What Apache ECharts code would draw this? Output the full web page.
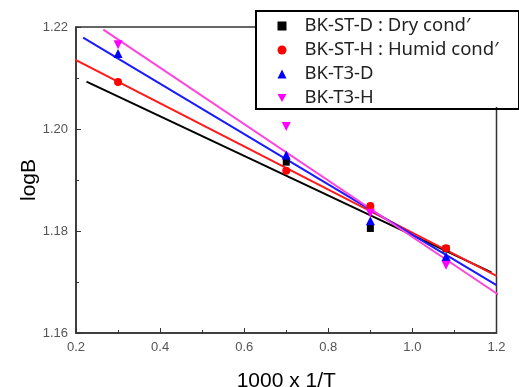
<!DOCTYPE html>
<html><head><meta charset="utf-8">
<script src="https://cdn.jsdelivr.net/npm/echarts@6/dist/echarts.min.js"></script>
<style>html,body{margin:0;padding:0;background:#fff}#c{width:519px;height:387px}</style>
</head><body><div id="c"></div>
<script>
// Data
const names = ['BK-ST-D : Dry cond\u2032', 'BK-ST-H : Humid cond\u2032', 'BK-T3-D', 'BK-T3-H'];
const stD_pts = [[0.7, 1.1935], [0.9, 1.1805], [1.08, 1.1765]];
const stH_pts = [[0.3, 1.2092], [0.7, 1.1918], [0.9, 1.1849], [1.08, 1.1766]];
const t3D_pts = [[0.3, 1.2148], [0.7, 1.1949], [0.9, 1.1820], [1.08, 1.1750]];
const t3H_pts = [[0.3, 1.2165], [0.7, 1.2005], [0.9, 1.1835], [1.08, 1.1733]];
// fitted lines (endpoints)
const stD_fit = [[0.225, 1.2093], [1.188, 1.1719]];
const stH_fit = [[0.195, 1.2137], [1.2, 1.1712]];
const t3D_fit = [[0.217, 1.2179], [1.2, 1.1694]];
const t3H_fit = [[0.265, 1.2195], [1.205, 1.1675]];
const xTicks = [0.2, 0.4, 0.6, 0.8, 1.0, 1.2];
const yTicks = [1.16, 1.18, 1.20, 1.22];

const colors = ['#000000', '#ff0000', '#0000ff', '#ff00ff'];
const lineColors = ['#000000', '#ff1a1a', '#1a1aff', '#ff44dd'];
const symbols = ['rect', 'circle', 'triangle', 'path://M0,0 L10,0 L5,9 Z'];
const symSizes = [7, 8, 9, 9];
const pts = [stD_pts, stH_pts, t3D_pts, t3H_pts];
const fits = [stD_fit, stH_fit, t3D_fit, t3H_fit];

const series = [];
fits.forEach((f, i) => series.push({
  type: 'line', data: f, showSymbol: false, symbol: 'none', silent: true,
  lineStyle: {color: lineColors[i], width: 2}, z: 2, clip: false
}));
pts.forEach((p, i) => series.push({
  name: names[i], type: 'scatter', data: p, symbol: symbols[i], symbolSize: symSizes[i],
  itemStyle: {color: colors[i], opacity: 1}, z: 5
}));

const tickFont = {color: '#555', fontSize: 13, fontFamily: 'Liberation Sans, Arial, sans-serif'};
const chart = echarts.init(document.getElementById('c'), null, {renderer: 'canvas'});
chart.setOption({
  animation: false,
  backgroundColor: '#fff',
  grid: {left: 76, top: 27, right: 22.5, bottom: 54, show: true, borderColor: '#333', borderWidth: 1.5,
         containLabel: false, outerBoundsMode: 'none'},
  xAxis: {
    type: 'value', min: 0.2, max: 1.2, interval: 0.2,
    axisLine: {lineStyle: {color: '#333', width: 1.5}},
    axisTick: {inside: true, length: 5, lineStyle: {color: '#333'}},
    minorTick: {show: true, splitNumber: 2, length: 3, lineStyle: {color: '#333'}},
    splitLine: {show: false},
    axisLabel: Object.assign({formatter: v => v.toFixed(1), margin: 8}, tickFont),
    name: '1000 x 1/T', nameLocation: 'middle', nameGap: 38,
    nameTextStyle: {fontSize: 21, color: '#000', fontFamily: 'Liberation Sans, Arial, sans-serif'}
  },
  yAxis: {
    type: 'value', min: 1.16, max: 1.22, interval: 0.02,
    axisLine: {lineStyle: {color: '#333', width: 1.5}},
    axisTick: {inside: true, length: 5, lineStyle: {color: '#333'}},
    minorTick: {show: true, splitNumber: 2, length: 3, lineStyle: {color: '#333'}},
    splitLine: {show: false},
    axisLabel: Object.assign({formatter: v => v.toFixed(2), margin: 8}, tickFont),
    name: 'logB', nameLocation: 'middle', nameGap: 36, nameRotate: 90, nameMoveOverlap: false,
    nameTextStyle: {fontSize: 21, color: '#000', fontFamily: 'Liberation Sans, Arial, sans-serif'}
  },
  legend: {
    orient: 'vertical', left: 277.5, top: 16.5, itemWidth: 9, itemHeight: 9, itemGap: 5,
    padding: 0, selectedMode: false,
    textStyle: {fontSize: 18.5, color: '#222', lineHeight: 18.5, padding: [0, 0, 0, 13], fontFamily: 'Noto Sans, sans-serif'},
    data: names.map((n, i) => ({name: n, icon: symbols[i]}))
  },
  graphic: [{
    type: 'rect', left: 255, top: 10, z: 100,
    shape: {width: 263, height: 98},
    style: {fill: 'rgba(255,255,255,0)', stroke: '#000', lineWidth: 2}
  }, {
    type: 'rect', left: 256, top: 11, z: 1,
    shape: {width: 261, height: 96},
    style: {fill: '#fff'}
  }],
  series: series
});
</script></body></html>
